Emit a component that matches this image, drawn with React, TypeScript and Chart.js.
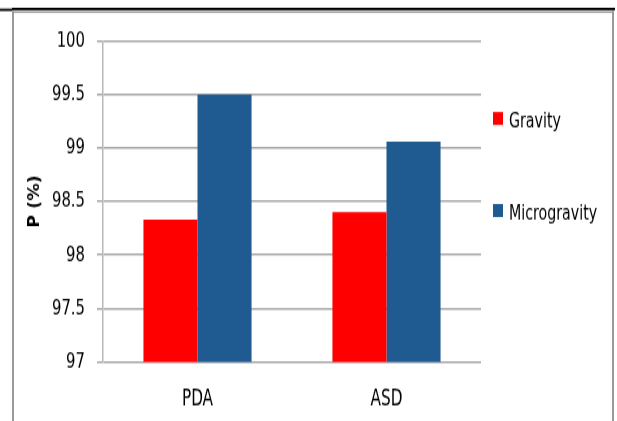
import React, { useEffect, useRef } from "react";
import { Chart, registerables } from "chart.js";

Chart.register(...registerables);

const categories = ["PDA", "ASD"];
const seriesNames = ["Gravity", "Microgravity"];
const gravityValues = [98.33, 98.4];
const microgravityValues = [99.5, 99.06];
const seriesColors = ["#FF0000", "#1F5A91"];
const yMin = 97;
const yMax = 100;
const yStep = 0.5;
const yTitle = "P (%)";

// The reference picture is vertically stretched; render on a shorter canvas
// and let CSS stretch it to the full 421px height.
const CSS_W = 617;
const CSS_H = 421;
const CANVAS_H = 324;
const S = CSS_H / CANVAS_H;
const sy = (y: number) => y / S;

const COND = '"DejaVu Sans Condensed", "DejaVu Sans", sans-serif';

const framePlugin = {
  id: "frame",
  beforeDraw(chart: any) {
    const ctx = chart.ctx;
    ctx.save();
    ctx.fillStyle = "#ffffff";
    ctx.fillRect(0, 0, chart.width, chart.height);
    // gray frame
    ctx.fillStyle = "#9a9a9a";
    ctx.fillRect(12, sy(11), 2, chart.height);
    ctx.fillRect(612, sy(11), 2, chart.height);
    ctx.fillRect(12, sy(11), 602, sy(1.8));
    // black top rule
    ctx.fillStyle = "#000000";
    ctx.fillRect(0, sy(8.6), 12, sy(2.4));
    ctx.fillRect(12, sy(7.8), 603, sy(2.4));
    ctx.restore();
  },
};

const legendPlugin = {
  id: "sideLegend",
  afterDraw(chart: any) {
    const ctx = chart.ctx;
    ctx.save();
    const baselines = [127, 219];
    chart.data.datasets.forEach((ds: any, i: number) => {
      const b = baselines[i];
      ctx.fillStyle = ds.backgroundColor;
      ctx.fillRect(493, sy(b - 15), 10, sy(13));
      ctx.fillStyle = "#000000";
      ctx.font = `15.8px ${COND}`;
      ctx.textBaseline = "alphabetic";
      ctx.textAlign = "left";
      ctx.fillText(ds.label, 509, sy(b));
    });
    ctx.restore();
  },
};

export default function App() {
  const ref = useRef<HTMLCanvasElement | null>(null);

  useEffect(() => {
    document.body.style.margin = "0";
    const canvas = ref.current;
    if (!canvas) return;
    const plotTop = sy(41);
    const plotBottom = sy(362);
    const chart = new Chart(canvas, {
      type: "bar",
      data: {
        labels: categories,
        datasets: [
          {
            label: seriesNames[0],
            data: gravityValues,
            backgroundColor: seriesColors[0],
            borderWidth: 0,
            barPercentage: 1,
            categoryPercentage: 0.572,
          },
          {
            label: seriesNames[1],
            data: microgravityValues,
            backgroundColor: seriesColors[1],
            borderWidth: 0,
            barPercentage: 1,
            categoryPercentage: 0.572,
          },
        ],
      },
      options: {
        animation: false,
        responsive: false,
        devicePixelRatio: 1,
        layout: { padding: { left: 0, right: 136, top: plotTop, bottom: 0 } },
        plugins: {
          legend: { display: false },
          tooltip: { enabled: false },
        },
        scales: {
          x: {
            grid: { display: false, drawTicks: false },
            border: { display: false },
            ticks: {
              color: "#000000",
              font: { family: COND, size: 17 },
              padding: 19,
            },
            afterFit(scale: any) {
              scale.height = CANVAS_H - plotBottom;
            },
          },
          y: {
            min: yMin,
            max: yMax,
            ticks: {
              stepSize: yStep,
              color: "#000000",
              font: { family: COND, size: 16.5 },
              padding: 12,
              callback: (v: any) => `${Number(v)}`,
            },
            grid: {
              color: "#a8a8a8",
              lineWidth: 1.5,
              tickLength: 6,
              drawTicks: true,
            },
            border: { display: true, color: "#b8b8b8", width: 1.5 },
            title: {
              display: true,
              text: yTitle,
              color: "#000000",
              font: { family: COND, size: 15, weight: "bold" },
              padding: { top: 26, bottom: 0 },
            },
            afterFit(scale: any) {
              scale.width = 103;
            },
          },
        },
      },
      plugins: [framePlugin, legendPlugin],
    });
    return () => chart.destroy();
  }, []);

  return (
    <canvas
      ref={ref}
      width={CSS_W}
      height={CANVAS_H}
      style={{ display: "block", width: `${CSS_W}px`, height: `${CSS_H}px` }}
    />
  );
}
